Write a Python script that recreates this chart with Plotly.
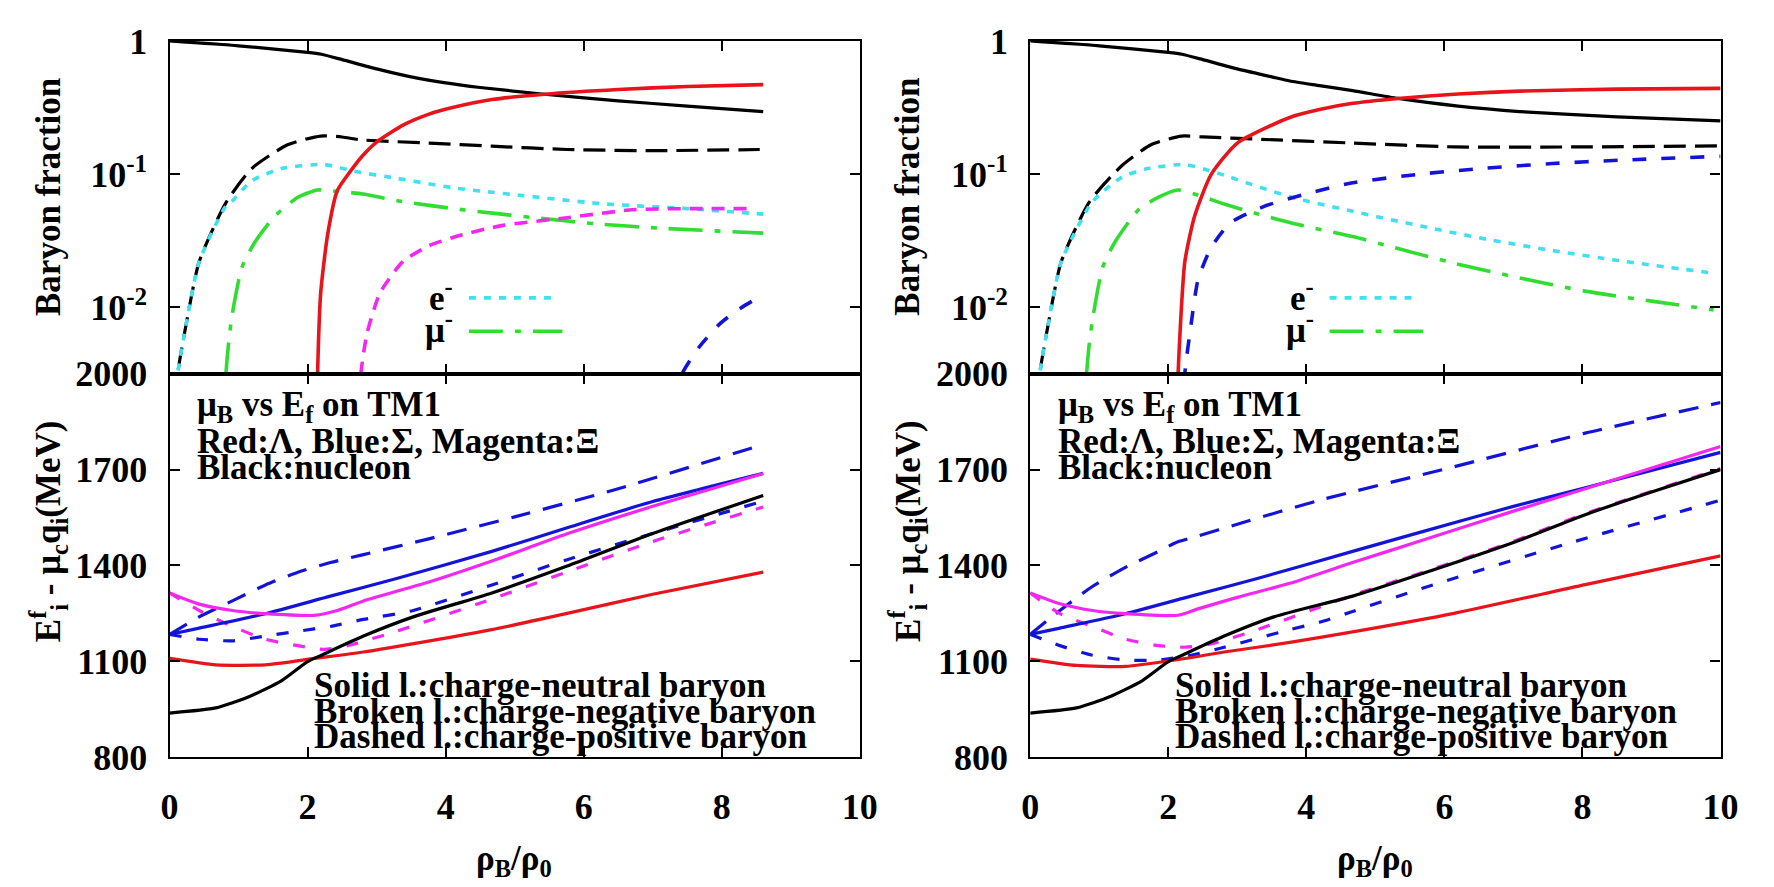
import plotly.graph_objects as go

W, H = 1774, 887
FONT = "Liberation Serif, Times New Roman, Tinos, DejaVu Serif, serif"

# ---------------- colours ----------------
RED = "#E8141B"
BLUE = "#1414D6"
MAG = "#F028F0"
CYAN = "#40E0F0"
GREEN = "#30DD30"
BLACK = "#000000"

# ================= TOP-LEFT : baryon / lepton fractions =================
tl_n_x = [0, 1.0, 2.0, 2.2, 2.5, 3.0, 3.5, 4.0, 4.5, 5.43, 6.5, 7.5, 8.6]
tl_n_y = [1.0, 0.92, 0.82, 0.794, 0.724, 0.617, 0.537, 0.484, 0.447, 0.398, 0.355, 0.324, 0.295]

tl_lam_x = [2.13, 2.15, 2.19, 2.29, 2.43, 2.62, 2.8, 3.0, 3.39, 3.76, 4.1, 4.67, 5.43, 6.5, 7.5, 8.6]
tl_lam_y = [0.001, 0.004, 0.0128, 0.035, 0.075, 0.105, 0.138, 0.174, 0.234, 0.282, 0.316, 0.363, 0.398, 0.432, 0.455, 0.47]

tl_p_x = [0.10, 0.12, 0.24, 0.43, 0.81, 1.19, 1.71, 2.19, 2.5, 2.76, 3.76, 4.67, 5.76, 7.0, 8.55]
tl_p_y = [0.002, 0.0032, 0.0074, 0.022, 0.06, 0.11, 0.166, 0.193, 0.19, 0.181, 0.171, 0.162, 0.153, 0.15, 0.153]

tl_e_x = [0.10, 0.12, 0.24, 0.43, 0.81, 0.9, 1.19, 1.62, 2.24, 2.67, 3.29, 4.1, 4.67, 5.0, 6.24, 7.5, 8.6]
tl_e_y = [0.002, 0.0032, 0.0074, 0.022, 0.057, 0.062, 0.089, 0.11, 0.118, 0.105, 0.093, 0.079, 0.073, 0.070, 0.060, 0.055, 0.050]

tl_mu_x = [0.79, 0.81, 0.85, 0.9, 1.05, 1.24, 1.52, 1.86, 2.14, 2.33, 2.81, 3.3, 4.2, 5.29, 6.24, 7.2, 8.6]
tl_mu_y = [0.001, 0.0028, 0.005, 0.0083, 0.020, 0.031, 0.048, 0.067, 0.076, 0.075, 0.0708, 0.063, 0.0543, 0.047, 0.042, 0.039, 0.036]

tl_xi_x = [2.74, 2.76, 2.86, 3.05, 3.38, 3.76, 4.24, 4.81, 5.76, 6.71, 7.5, 8.43]
tl_xi_y = [0.001, 0.0028, 0.0063, 0.0128, 0.022, 0.029, 0.035, 0.041, 0.047, 0.054, 0.055, 0.055]

tl_sig_x = [7.30, 7.43, 7.67, 7.96, 8.2, 8.49]
tl_sig_y = [0.002, 0.0032, 0.005, 0.0074, 0.0093, 0.0115]

# ================= TOP-RIGHT =================
tr_n_x = [0, 1.0, 2.0, 2.2, 2.5, 3.0, 3.5, 3.76, 4.19, 4.67, 5.33, 6.2, 7.09, 8.5, 10]
tr_n_y = [1.0, 0.92, 0.82, 0.794, 0.724, 0.617, 0.537, 0.50, 0.462, 0.424, 0.37, 0.324, 0.295, 0.269, 0.251]

tr_lam_x = [2.12, 2.14, 2.18, 2.24, 2.38, 2.62, 3.0, 3.76, 4.19, 4.67, 5.33, 6.2, 7.09, 8.5, 10]
tr_lam_y = [0.001, 0.003, 0.008, 0.022, 0.048, 0.099, 0.171, 0.266, 0.305, 0.34, 0.37, 0.40, 0.42, 0.435, 0.44]

tr_p_x = [0.12, 0.14, 0.26, 0.45, 0.86, 1.33, 1.75, 2.19, 2.5, 3.29, 4.67, 6.14, 8.0, 10]
tr_p_y = [0.002, 0.0032, 0.0074, 0.022, 0.062, 0.116, 0.166, 0.193, 0.19, 0.183, 0.171, 0.16, 0.16, 0.163]

tr_e_x = [0.12, 0.14, 0.26, 0.45, 0.86, 1.0, 1.33, 1.7, 2.24, 2.6, 2.81, 3.76, 4.67, 5.66, 6.61, 7.57, 8.52, 9.9]
tr_e_y = [0.002, 0.0032, 0.0074, 0.022, 0.058, 0.07, 0.095, 0.11, 0.118, 0.106, 0.098, 0.0676, 0.0525, 0.0407, 0.0324, 0.0266, 0.0224, 0.018]

tr_mu_x = [0.79, 0.81, 0.85, 0.9, 1.05, 1.23, 1.57, 1.86, 2.14, 2.5, 2.81, 3.3, 3.8, 4.67, 5.19, 6.14, 7.09, 8.04, 9.0, 9.9]
tr_mu_y = [0.001, 0.0028, 0.005, 0.0079, 0.02, 0.031, 0.054, 0.067, 0.0759, 0.0676, 0.0596, 0.0501, 0.0427, 0.0339, 0.0288, 0.0214, 0.0166, 0.0132, 0.0111, 0.00955]

tr_sig_x = [2.2, 2.24, 2.33, 2.43, 2.62, 2.9, 3.38, 4.0, 4.67, 5.66, 6.61, 7.57, 8.52, 10]
tr_sig_y = [0.001, 0.0032, 0.0074, 0.016, 0.028, 0.043, 0.057, 0.071, 0.086, 0.10, 0.111, 0.12, 0.127, 0.136]

# ================= BOTTOM-LEFT : E_i^f - mu_c q_i (MeV) =================
bl_n_x = [0, 0.67, 1.15, 1.62, 2.0, 2.2, 2.81, 3.53, 4.67, 5.76, 7.0, 8.6]
bl_n_y = [938, 954, 989, 1039, 1099, 1119, 1179, 1239, 1314, 1398, 1500, 1619]

bl_lam_x = [0, 0.67, 1.39, 2.1, 2.81, 3.77, 4.67, 5.76, 7.0, 8.6]
bl_lam_y = [1109, 1089, 1089, 1109, 1129, 1164, 1199, 1250, 1310, 1379]

bl_xi0_x = [0, 0.43, 0.91, 1.39, 2.1, 2.43, 2.81, 3.77, 4.67, 5.76, 7.0, 8.6]
bl_xi0_y = [1314, 1279, 1259, 1249, 1244, 1259, 1289, 1349, 1414, 1499, 1585, 1688]

bl_sig0_x = [0, 0.43, 1.39, 2.33, 3.29, 4.67, 5.76, 7.0, 8.6]
bl_sig0_y = [1184, 1204, 1249, 1304, 1359, 1444, 1518, 1600, 1688]

bl_sigm_x = [0, 0.43, 0.91, 1.39, 1.86, 2.33, 2.81, 3.77, 5.0, 6.5, 8.5]
bl_sigm_y = [1184, 1239, 1289, 1339, 1379, 1409, 1434, 1484, 1552, 1640, 1772]

bl_sigp_x = [0, 0.43, 0.91, 1.39, 1.86, 2.33, 2.81, 3.53, 4.67, 5.76, 7.0, 8.5]
bl_sigp_y = [1184, 1169, 1164, 1179, 1194, 1209, 1231, 1259, 1339, 1418, 1500, 1595]

bl_xim_x = [0, 0.43, 0.91, 1.39, 1.86, 2.24, 2.58, 3.29, 4.67, 5.76, 7.0, 8.6]
bl_xim_y = [1314, 1259, 1209, 1169, 1149, 1137, 1149, 1194, 1295, 1380, 1475, 1583]

# ================= BOTTOM-RIGHT =================
br_n_x = [0, 0.67, 1.15, 1.62, 2.0, 2.2, 2.81, 3.53, 4.67, 5.67, 7.0, 8.04, 9.0, 10]
br_n_y = [938, 954, 989, 1039, 1099, 1119, 1179, 1239, 1304, 1374, 1472, 1559, 1630, 1700]

br_lam_x = [0, 0.67, 1.38, 2.1, 2.81, 3.76, 4.67, 6.14, 8.04, 10]
br_lam_y = [1107, 1087, 1084, 1104, 1129, 1159, 1192, 1250, 1340, 1430]

br_xi0_x = [0, 0.43, 0.9, 1.38, 2.14, 2.43, 3.0, 3.76, 4.67, 5.67, 7.0, 8.04, 10]
br_xi0_y = [1314, 1280, 1259, 1249, 1244, 1264, 1300, 1344, 1409, 1478, 1570, 1640, 1772]

br_sig0_x = [0, 0.43, 1.38, 2.33, 3.29, 4.67, 5.67, 7.0, 8.04, 10]
br_sig0_y = [1184, 1204, 1249, 1304, 1359, 1444, 1505, 1585, 1643, 1754]

br_sigm_x = [0, 0.43, 0.9, 1.38, 1.86, 2.14, 2.43, 3.0, 4.19, 6.14, 8.04, 10]
br_sigm_y = [1184, 1259, 1334, 1394, 1444, 1474, 1492, 1529, 1604, 1709, 1814, 1910]

br_sigp_x = [0, 0.43, 0.9, 1.38, 1.86, 2.33, 2.81, 3.76, 4.19, 4.67, 5.67, 7.81, 10]
br_sigp_y = [1184, 1149, 1119, 1104, 1104, 1119, 1144, 1199, 1222, 1256, 1328, 1470, 1604]

br_xim_x = [0, 0.43, 0.9, 1.38, 1.86, 2.24, 2.62, 3.29, 4.67, 5.67, 7.0, 8.04, 10]
br_xim_y = [1314, 1249, 1209, 1169, 1149, 1144, 1154, 1199, 1307, 1377, 1475, 1562, 1703]

# ---------------- tick labels ----------------
top_tickvals = [1, 0.1, 0.01]
top_ticktext = ["1", "10<sup>-1</sup>", "10<sup>-2</sup>"]
bot_tickvals = [800, 1100, 1400, 1700, 2000]
bot_ticktext = ["800", "1100", "1400", "1700", "2000"]
x_tickvals = [0, 2, 4, 6, 8, 10]
x_ticktext = ["0", "2", "4", "6", "8", "10"]

# ---------------- dash styles ----------------
D_BLACK = "22px,9px"
D_CYAN = "7px,8px"
D_GREEN = "34px,12px,6px,12px"
D_MAG_T = "13px,9px"
D_BLUE_T = "14px,15px"
D_LONG = "20px,13px"
D_SHORT = "12px,15px"


def px_x(p):
    return p / W


def px_y(p):
    return 1 - p / H


fig = go.Figure()


def add(x, y, color, dash, ax, width=3.2):
    xa, ya = ax
    fig.add_trace(go.Scatter(
        x=x, y=y, mode="lines", xaxis=xa, yaxis=ya, hoverinfo="skip",
        line=dict(color=color, width=width, dash=dash, shape="spline", smoothing=0.6),
        showlegend=False))


TL, TR, BL, BR = ("x", "y"), ("x2", "y2"), ("x3", "y3"), ("x4", "y4")

# top-left
add(tl_n_x, tl_n_y, BLACK, "solid", TL)
add(tl_p_x, tl_p_y, BLACK, D_BLACK, TL)
add(tl_e_x, tl_e_y, CYAN, D_CYAN, TL, 3.6)
add(tl_mu_x, tl_mu_y, GREEN, D_GREEN, TL, 3.6)
add(tl_lam_x, tl_lam_y, RED, "solid", TL, 3.6)
add(tl_xi_x, tl_xi_y, MAG, D_MAG_T, TL, 3.6)
add(tl_sig_x, tl_sig_y, BLUE, D_BLUE_T, TL, 3.6)
# top-right
add(tr_n_x, tr_n_y, BLACK, "solid", TR)
add(tr_p_x, tr_p_y, BLACK, D_BLACK, TR)
add(tr_e_x, tr_e_y, CYAN, D_CYAN, TR, 3.6)
add(tr_mu_x, tr_mu_y, GREEN, D_GREEN, TR, 3.6)
add(tr_lam_x, tr_lam_y, RED, "solid", TR, 3.6)
add(tr_sig_x, tr_sig_y, BLUE, D_BLUE_T, TR, 3.6)
# bottom-left
add(bl_sigm_x, bl_sigm_y, BLUE, D_LONG, BL)
add(bl_sigp_x, bl_sigp_y, BLUE, D_SHORT, BL)
add(bl_xim_x, bl_xim_y, MAG, D_SHORT, BL)
add(bl_sig0_x, bl_sig0_y, BLUE, "solid", BL)
add(bl_xi0_x, bl_xi0_y, MAG, "solid", BL)
add(bl_lam_x, bl_lam_y, RED, "solid", BL)
add(bl_n_x, bl_n_y, BLACK, "solid", BL)
# bottom-right
add(br_sigm_x, br_sigm_y, BLUE, D_LONG, BR)
add(br_sigp_x, br_sigp_y, BLUE, D_SHORT, BR)
add(br_xim_x, br_xim_y, MAG, D_SHORT, BR)
add(br_sig0_x, br_sig0_y, BLUE, "solid", BR)
add(br_xi0_x, br_xi0_y, MAG, "solid", BR)
add(br_lam_x, br_lam_y, RED, "solid", BR)
add(br_n_x, br_n_y, BLACK, "solid", BR)

tickfont = dict(family=FONT, size=36, color="black", weight="bold")
xdomL = [px_x(163), px_x(864)]
xdomR = [px_x(1037), px_x(1738)]
ydomT = [px_y(371.5), px_y(23)]
ydomB = [px_y(773), px_y(371.5)]

common = dict(showline=True, linecolor="black", linewidth=2.2, mirror="ticks",
              ticks="inside", ticklen=10, tickwidth=2, tickcolor="black",
              showgrid=False, zeroline=False, tickfont=tickfont)


def xa(dom, anchor, labels):
    d = dict(common, domain=dom, anchor=anchor, range=[0, 10],
             tickmode="array", tickvals=x_tickvals, ticktext=x_ticktext,
             showticklabels=labels)
    if labels:
        d["ticklabelstandoff"] = 17
    return d


def ya(dom, anchor, top):
    d = dict(common, domain=dom, anchor=anchor, ticklabelstandoff=13)
    if top:
        d.update(type="log", range=[-2.5, 0], tickmode="array",
                 tickvals=top_tickvals, ticktext=top_ticktext)
    else:
        d.update(range=[800, 2000], tickmode="array",
                 tickvals=bot_tickvals, ticktext=bot_ticktext)
    return d


afont = dict(family=FONT, size=35, color="black", weight="bold")
annotations = []
shapes = []
for x0, ylab_x in ((163, 40), (1037, 913)):
    cx = x0 + 350
    # y titles
    annotations.append(dict(text="Baryon fraction", x=px_x(ylab_x), y=px_y(186),
                            xref="paper", yref="paper", textangle=-90,
                            showarrow=False, font=afont, xanchor="center", yanchor="middle"))
    annotations.append(dict(text="E<sup>f</sup><sub>i</sub> - μ<sub>c</sub>q<sub>i</sub>(MeV)",
                            x=px_x(ylab_x), y=px_y(536), xref="paper", yref="paper",
                            textangle=-90, showarrow=False, font=afont,
                            xanchor="center", yanchor="middle"))
    # x title
    annotations.append(dict(text="ρ<sub>B</sub>/ρ<sub>0</sub>", x=px_x(cx), y=px_y(881),
                            xref="paper", yref="paper", showarrow=False, font=afont,
                            xanchor="center", yanchor="middle"))
    # texts in bottom panel
    for txt, yy in (("μ<sub>B</sub> vs E<sub>f</sub> on TM1", 406),
                    ("Red:Λ, Blue:Σ, Magenta:Ξ", 442),
                    ("Black:nucleon", 470)):
        annotations.append(dict(text=txt, x=px_x(x0 + 26), y=px_y(yy), xref="paper",
                                yref="paper", showarrow=False, font=afont,
                                xanchor="left", yanchor="middle"))
    for txt, yy in (("Solid l.:charge-neutral baryon", 698),
                    ("Broken l.:charge-negative baryon", 725),
                    ("Dashed l.:charge-positive baryon", 751)):
        annotations.append(dict(text=txt, x=px_x(x0 + 145), y=px_y(yy), xref="paper",
                                yref="paper", showarrow=False, font=afont,
                                xanchor="left", yanchor="middle"))
    # lepton key
    annotations.append(dict(text="e<sup>-</sup>", x=px_x(x0 + 290), y=px_y(290),
                            xref="paper", yref="paper", showarrow=False, font=afont,
                            xanchor="right", yanchor="middle"))
    annotations.append(dict(text="μ<sup>-</sup>", x=px_x(x0 + 290), y=px_y(323),
                            xref="paper", yref="paper", showarrow=False, font=afont,
                            xanchor="right", yanchor="middle"))
    shapes.append(dict(type="line", xref="paper", yref="paper",
                       x0=px_x(x0 + 304), x1=px_x(x0 + 392), y0=px_y(292), y1=px_y(292),
                       line=dict(color=CYAN, width=3.6, dash=D_CYAN)))
    shapes.append(dict(type="line", xref="paper", yref="paper",
                       x0=px_x(x0 + 304), x1=px_x(x0 + 399), y0=px_y(327), y1=px_y(327),
                       line=dict(color=GREEN, width=3.6, dash=D_GREEN)))

fig.update_layout(
    width=W, height=H, margin=dict(l=0, r=0, t=0, b=0),
    paper_bgcolor="white", plot_bgcolor="white",
    font=dict(family=FONT, size=35, color="black", weight="bold"),
    showlegend=False,
    xaxis=xa(xdomL, "y", False), yaxis=ya(ydomT, "x", True),
    xaxis2=xa(xdomR, "y2", False), yaxis2=ya(ydomT, "x2", True),
    xaxis3=xa(xdomL, "y3", True), yaxis3=ya(ydomB, "x3", False),
    xaxis4=xa(xdomR, "y4", True), yaxis4=ya(ydomB, "x4", False),
    annotations=annotations, shapes=shapes,
)

fig.write_html("out.html")
